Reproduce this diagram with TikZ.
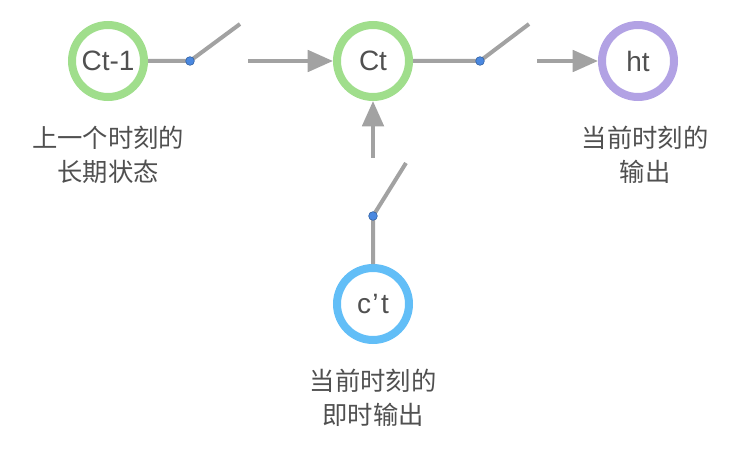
\documentclass[tikz,border=0pt]{standalone}
\usepackage{fontspec}
\setmainfont{Liberation Sans}
\newfontfamily\cjk{Noto Sans CJK SC}
\usetikzlibrary{arrows.meta}

\definecolor{cellgreen}{RGB}{160,222,140}
\definecolor{cellblue}{RGB}{98,190,247}
\definecolor{cellpurple}{RGB}{178,162,228}
\definecolor{wiregray}{RGB}{162,162,162}
\definecolor{pinblue}{RGB}{74,136,224}
\definecolor{textgray}{RGB}{80,80,80}

\tikzset{
    cell/.style={circle, draw, line width=6pt, minimum size=54pt, inner sep=0pt, text=textgray, font=\fontsize{21}{21}\selectfont},
    wire/.style={draw=wiregray, line width=3pt},
    flow/.style={wire, -{Triangle[length=19pt, width=16pt]}},
    pin/.style={circle, fill=pinblue, draw=pinblue!75!black, line width=0.5pt, minimum size=6.5pt, inner sep=0pt},
    note/.style={align=center, text=textgray, font=\cjk\fontsize{19}{25.5}\selectfont}
}

\begin{document}
\begin{tikzpicture}[x=0.75pt, y=-0.75pt]
    \useasboundingbox (0,0) rectangle (742,456);

    % cells
    \node[cell, draw=cellgreen] (cprev) at (108,61) {Ct-1};
    \node[cell, draw=cellgreen] (ccur) at (373,61) {Ct};
    \node[cell, draw=cellpurple] (hcur) at (638,61) {ht};
    \node[cell, draw=cellblue] (cnew) at (373,304) {c\kern1pt’\kern2pt t};

    % switches
    \coordinate (s1) at (190,61);
    \coordinate (s2) at (480,61);
    \coordinate (s3) at (373,216);
    \coordinate (s1end) at (240,24);
    \coordinate (s2end) at (529,24);
    \coordinate (s3end) at (406,163);
    \coordinate (a1) at (248,61);
    \coordinate (a2) at (537,61);
    \coordinate (a3) at (373,158);

    \draw[wire] (cprev) -- (s1) -- (s1end);
    \draw[wire] (ccur) -- (s2) -- (s2end);
    \draw[wire] (cnew) -- (s3) -- (s3end);

    \draw[flow] (a1) -- (ccur);
    \draw[flow] (a2) -- (hcur);
    \draw[flow] (a3) -- (ccur);

    \foreach \s in {s1,s2,s3}
        \node[pin] at (\s) {};

    % labels
    \node[note] (lprev) at (108,155) {上一个时刻的\\长期状态};
    \node[note] (lout) at (645,155) {当前时刻的\\输出};
    \node[note] (lnew) at (373,398) {当前时刻的\\即时输出};
\end{tikzpicture}
\end{document}
